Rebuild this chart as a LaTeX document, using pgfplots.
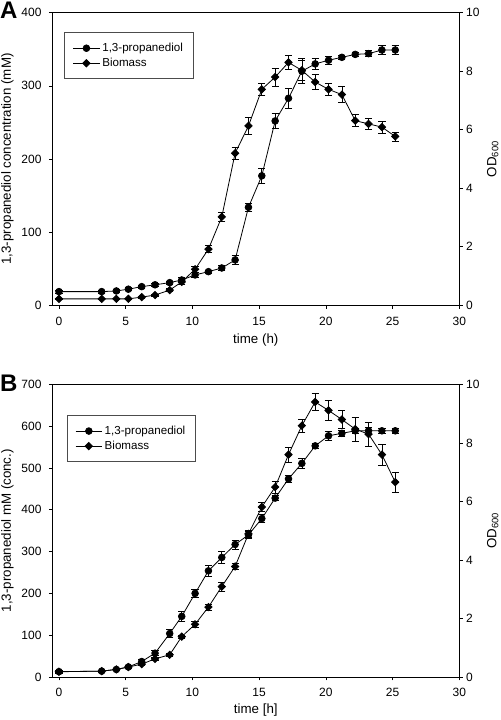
\documentclass[border=0pt]{standalone}
\usepackage{pgfplots}
\pgfplotsset{compat=1.18}
\usepackage{pgfplotstable}
\usepackage{fontspec}
\setmainfont{Liberation Sans}

\pgfplotstableread{
x y e
0 18.7 2
3.2 18.7 2
4.3 19.6 2
5.2 22 2
6.2 25.5 2
7.2 28 2
8.3 31 2
9.2 34.6 3
10.2 41.5 3
11.2 46 2
12.2 51 3
13.2 62 6
14.2 134 6
15.2 177 10
16.2 252 10
17.2 283 14
18.2 320 17
19.2 330 7
20.2 335 5
21.2 339 3
22.2 343 3
23.2 344 4
24.2 349 6
25.2 349 6
}\pdoA
\pgfplotstableread{
x y e
0 0.22 0.03
3.2 0.22 0.03
4.3 0.22 0.03
5.2 0.22 0.03
6.2 0.28 0.03
7.2 0.35 0.04
8.3 0.52 0.05
9.2 0.80 0.08
10.2 1.23 0.10
11.2 1.92 0.12
12.2 3.02 0.14
13.2 5.20 0.20
14.2 6.13 0.30
15.2 7.38 0.20
16.2 7.80 0.30
17.2 8.30 0.25
18.2 8.03 0.35
19.2 7.63 0.25
20.2 7.38 0.20
21.2 7.20 0.28
22.2 6.31 0.20
23.2 6.20 0.20
24.2 6.09 0.20
25.2 5.77 0.15
}\bioA
\pgfplotstableread{
x y e
0 12.8 3
3.2 14 3
4.3 18 3
5.2 24 4
6.2 37 5
7.2 57 6
8.3 104 10
9.2 145 13
10.2 200 10
11.2 254 14
12.2 286 15
13.2 317 11
14.2 340 8
15.2 379 10
16.2 428 6
17.2 474 9
18.2 511 11
19.2 553 5
20.2 577 10
21.2 583 8
22.2 589 7
23.2 589 8
24.2 589 5
25.2 589 6
}\pdoB
\pgfplotstableread{
x y e
0 0.18 0.03
3.2 0.20 0.03
4.3 0.26 0.03
5.2 0.34 0.04
6.2 0.44 0.05
7.2 0.62 0.05
8.3 0.76 0.05
9.2 1.38 0.06
10.2 1.80 0.10
11.2 2.39 0.10
12.2 3.09 0.15
13.2 3.78 0.10
14.2 4.89 0.12
15.2 5.81 0.15
16.2 6.49 0.20
17.2 7.60 0.25
18.2 8.59 0.22
19.2 9.40 0.30
20.2 9.11 0.35
21.2 8.80 0.30
22.2 8.47 0.40
23.2 8.30 0.40
24.2 7.60 0.35
25.2 6.66 0.35
}\bioB

\pgfplotsset{
  base/.style={
    scale only axis, width=305.25pt, height=219.45pt,
    xmin=-0.5, xmax=30, xtick={0,5,...,30},
    tick align=outside, major tick length=2.6pt,
    tick style={black, line width=0.5pt},
    axis line style={black, line width=0.6pt},
    font=\fontsize{9}{10}\selectfont,
    /pgf/number format/assume math mode=true,
    label style={font=\fontsize{10}{12}\selectfont},
    clip=false,
  },
  leftax/.style={base,
    xtick pos=bottom, ytick pos=left,
    ylabel style={at={(axis description cs:-0.110,0.5)}, anchor=center},
    xlabel style={anchor=center},
    xticklabel style={yshift=-2.5pt},
    yticklabel style={xshift=-2pt},
  },
  rightax/.style={base,
    hide x axis, axis y line*=right, ymin=0, ymax=10, ytick={0,2,...,10},
    ylabel style={at={(axis description cs:1.082,0.5)}, anchor=center},
    yticklabel style={xshift=-1pt},
    legend cell align=left,
    legend style={draw=black!70, line width=0.6pt, anchor=north west,
      font=\fontsize{8.7}{10}\selectfont, inner xsep=6pt, inner ysep=6pt,
      row sep=0pt,
      nodes={inner sep=1.6pt, text height=6.3pt, text depth=1.8pt}},
    legend image code/.code={\draw[mark repeat=2,mark phase=2,#1] plot coordinates {(0pt,0pt) (10pt,0pt) (20pt,0pt)};},
  },
  pdo/.style={black, line width=0.6pt, mark=*, mark size=2.5pt, mark options={solid,fill=black},
    error bars/.cd, y dir=both, y explicit,
    error bar style={line width=0.5pt, black},
    error mark options={black, line width=0.5pt, mark size=2.7pt, rotate=90}},
  bio/.style={black, line width=0.6pt, mark=square*, mark size=1.95pt, mark options={solid,fill=black,rotate=45},
    error bars/.cd, y dir=both, y explicit,
    error bar style={line width=0.5pt, black},
    error mark options={black, line width=0.5pt, mark size=2.7pt, rotate=90}},
}

\begin{document}
\begin{tikzpicture}
\useasboundingbox (0,0) rectangle (375pt,540pt);
% ---------- Panel A
\begin{axis}[leftax, at={(39.225pt,311.025pt)}, anchor=south west,
  ymin=0, ymax=400, ytick={0,100,...,400},
  xlabel={time (h)}, ylabel={1,3-propanediol concentration (mM)},
  xlabel style={at={(axis description cs:0.5,-0.12)}}]
\addplot[pdo] table[x=x, y=y, y error=e] {\pdoA};
\end{axis}
\begin{axis}[rightax, at={(39.225pt,311.025pt)}, anchor=south west,
  ylabel={OD\textsubscript{600}},
  legend style={at={(axis description cs:0.0295,0.933)}}]
\addlegendimage{pdo}
\addlegendentry{1,3-propanediol}
\addplot[bio] table[x=x, y=y, y error=e] {\bioA};
\addlegendentry{Biomass}
\end{axis}
\node[font=\fontsize{18}{20}\selectfont\bfseries] at (6.5pt,532.5pt) {A};
% ---------- Panel B
\begin{axis}[leftax, at={(39.225pt,32.25pt)}, anchor=south west,
  ymin=0, ymax=700, ytick={0,100,...,700},
  xlabel={time [h]}, ylabel={1,3-propanediol mM (conc.)},
  xlabel style={at={(axis description cs:0.5,-0.114)}}]
\addplot[pdo] table[x=x, y=y, y error=e] {\pdoB};
\end{axis}
\begin{axis}[rightax, at={(39.225pt,32.25pt)}, anchor=south west,
  ylabel={OD\textsubscript{600}},
  legend style={at={(axis description cs:0.0354,0.895)}}]
\addlegendimage{pdo}
\addlegendentry{1,3-propanediol}
\addplot[bio] table[x=x, y=y, y error=e] {\bioB};
\addlegendentry{Biomass}
\end{axis}
\node[font=\fontsize{18}{20}\selectfont\bfseries] at (6.5pt,252.5pt) {B};
\end{tikzpicture}
\end{document}
